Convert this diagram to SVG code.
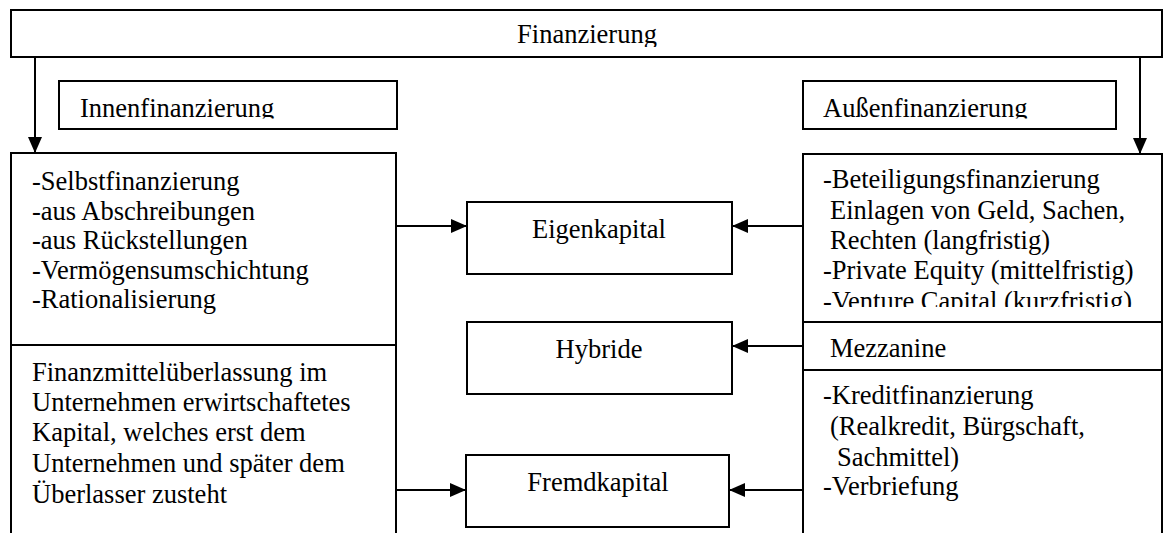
<svg xmlns="http://www.w3.org/2000/svg" width="1168" height="533" viewBox="0 0 1168 533">
  <defs>
    <style>
      .box { fill: #fff; stroke: #000; stroke-width: 2; }
      .line { fill: none; stroke: #000; stroke-width: 2; }
      .conn { fill: none; stroke: #000; stroke-width: 2; marker-end: url(#arrow); }
      text { font-family: "Liberation Serif", "Times New Roman", serif; font-size: 26.5px; fill: #000; }
      .mid { text-anchor: middle; }
    </style>
    <marker id="arrow" markerUnits="userSpaceOnUse" markerWidth="16" markerHeight="16" viewBox="0 0 16 16" refX="16" refY="8" orient="auto">
      <path d="M0,1 L16,8 L0,15 Z" fill="#000"/>
    </marker>
    <clipPath id="clipTop"><rect x="11" y="10" width="1151" height="37"/></clipPath>
    <clipPath id="clipInnen"><rect x="59" y="81" width="338" height="37.5"/></clipPath>
    <clipPath id="clipAussen"><rect x="803" y="81" width="313" height="37.5"/></clipPath>
    <clipPath id="clipBeteiligung"><rect x="803" y="154" width="359" height="153"/></clipPath>
  </defs>

  <!-- top heading -->
  <g id="finanzierung">
    <rect class="box" x="11" y="10" width="1151" height="47"/>
    <text class="mid" x="587" y="43" clip-path="url(#clipTop)">Finanzierung</text>
  </g>

  <g id="innenfinanzierung">
    <rect class="box" x="59" y="81" width="338" height="48"/>
    <text x="80" y="117" clip-path="url(#clipInnen)">Innenfinanzierung</text>
  </g>

  <g id="aussenfinanzierung">
    <rect class="box" x="803" y="81" width="313" height="48"/>
    <text x="823" y="117" clip-path="url(#clipAussen)">Außenfinanzierung</text>
  </g>

  <!-- left column: internal sources -->
  <g id="innen-liste">
    <path class="line" d="M11,533 V153 H396 V533"/>
    <line class="line" x1="11" y1="345" x2="396" y2="345"/>
    <text x="32" y="190">-Selbstfinanzierung</text>
    <text x="32" y="220">-aus Abschreibungen</text>
    <text x="32" y="249">-aus Rückstellungen</text>
    <text x="32" y="279">-Vermögensumschichtung</text>
    <text x="32" y="308">-Rationalisierung</text>
    <text x="32" y="381">Finanzmittelüberlassung im</text>
    <text x="32" y="411">Unternehmen erwirtschaftetes</text>
    <text x="32" y="441">Kapital, welches erst dem</text>
    <text x="32" y="472">Unternehmen und später dem</text>
    <text x="32" y="503">Überlasser zusteht</text>
  </g>

  <!-- right column: external sources -->
  <g id="aussen-liste">
    <path class="line" d="M803,533 V154 H1162 V533"/>
    <line class="line" x1="803" y1="322" x2="1162" y2="322"/>
    <line class="line" x1="803" y1="370" x2="1162" y2="370"/>
    <g clip-path="url(#clipBeteiligung)">
      <text x="823" y="188">-Beteiligungsfinanzierung</text>
      <text x="830" y="219">Einlagen von Geld, Sachen,</text>
      <text x="830" y="249">Rechten (langfristig)</text>
      <text x="823" y="279">-Private Equity (mittelfristig)</text>
      <text x="823" y="310">-Venture Capital (kurzfristig)</text>
    </g>
    <text x="830" y="357">Mezzanine</text>
    <text x="823" y="404">-Kreditfinanzierung</text>
    <text x="830" y="435">(Realkredit, Bürgschaft,</text>
    <text x="837" y="466">Sachmittel)</text>
    <text x="823" y="495">-Verbriefung</text>
  </g>

  <!-- capital types -->
  <g id="eigenkapital">
    <rect class="box" x="467" y="202" width="265" height="72"/>
    <text class="mid" x="599" y="238">Eigenkapital</text>
  </g>

  <g id="hybride">
    <rect class="box" x="467" y="322" width="265" height="72"/>
    <text class="mid" x="599" y="358">Hybride</text>
  </g>

  <g id="fremdkapital">
    <rect class="box" x="466" y="455" width="263" height="72"/>
    <text class="mid" x="598" y="491">Fremdkapital</text>
  </g>

  <!-- connectors -->
  <g id="connectors">
    <line class="conn" x1="35" y1="57" x2="35" y2="153"/>
    <line class="conn" x1="1140" y1="57" x2="1140" y2="154"/>
    <line class="conn" x1="396" y1="226" x2="467" y2="226"/>
    <line class="conn" x1="803" y1="226" x2="732" y2="226"/>
    <line class="conn" x1="803" y1="346" x2="732" y2="346"/>
    <line class="conn" x1="396" y1="490" x2="466" y2="490"/>
    <line class="conn" x1="803" y1="490" x2="729" y2="490"/>
  </g>
</svg>
